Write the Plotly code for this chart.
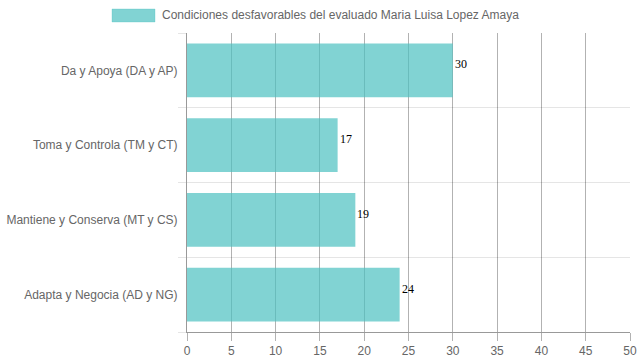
import plotly.graph_objects as go

categories = ["Da y Apoya (DA y AP)", "Toma y Controla (TM y CT)",
              "Mantiene y Conserva (MT y CS)", "Adapta y Negocia (AD y NG)"]
values = [30, 17, 19, 24]
series_name = "Condiciones desfavorables del evaluado Maria Luisa Lopez Amaya"
x_ticks = [0, 5, 10, 15, 20, 25, 30, 35, 40, 45, 50]

bar_color = "rgba(75,192,192,0.7)"

fig = go.Figure()
fig.add_trace(go.Bar(
    y=categories, x=values, orientation="h",
    marker=dict(color=bar_color, line=dict(width=0)),
    width=0.72,
    showlegend=False, hoverinfo="x+y",
))

value_labels = [dict(x=v, y=c, text=str(v), xref="x", yref="y",
                     xanchor="left", yanchor="middle", showarrow=False,
                     xshift=0, yshift=6,
                     font=dict(family="Liberation Serif, Times New Roman, serif",
                               size=12, color="#000"))
                for c, v in zip(categories, values)]

fig.update_layout(
    width=639, height=360,
    margin=dict(l=187, r=9, t=33, b=28, autoexpand=False),
    paper_bgcolor="white", plot_bgcolor="white",
    font=dict(family="Liberation Sans, Arial, sans-serif", size=12, color="#666"),
    xaxis=dict(
        range=[0, 50], tickvals=x_ticks, ticktext=[str(t) for t in x_ticks],
        showgrid=True, gridcolor="rgba(0,0,0,0.3)", gridwidth=1,
        zeroline=False, showline=True, linecolor="rgba(0,0,0,0.4)",
        ticks="outside", ticklen=8, tickcolor="rgba(0,0,0,0.3)",
        tickfont=dict(size=12, color="#666"), automargin=False,
    ),
    yaxis=dict(
        type="category", categoryorder="array", categoryarray=categories[::-1],
        tickson="boundaries", showgrid=True, gridcolor="rgba(0,0,0,0.1)",
        ticks="outside", ticklen=8, tickcolor="rgba(0,0,0,0.1)",
        showline=True, linecolor="rgba(0,0,0,0.4)",
        tickfont=dict(size=12, color="#666"),
        ticklabelstandoff=6, automargin=False,
    ),
    shapes=[dict(type="rect", xref="paper", yref="paper",
                 x0=-(187 - 112) / 443, x1=-(187 - 155) / 443,
                 y0=1 + (33 - 22) / 299, y1=1 + (33 - 9) / 299,
                 fillcolor=bar_color, line=dict(color="rgba(75,192,192,0.3)", width=1))],
    annotations=[dict(text=series_name, xref="paper", yref="paper",
                      x=-(187 - 160) / 443, y=1 + (33 - 15.5) / 299,
                      xanchor="left", yanchor="middle", showarrow=False,
                      font=dict(size=12, color="#666"))] + value_labels,
)

fig.write_html("out.html", config={"displayModeBar": False},
               post_script="document.body.style.margin='0';")
